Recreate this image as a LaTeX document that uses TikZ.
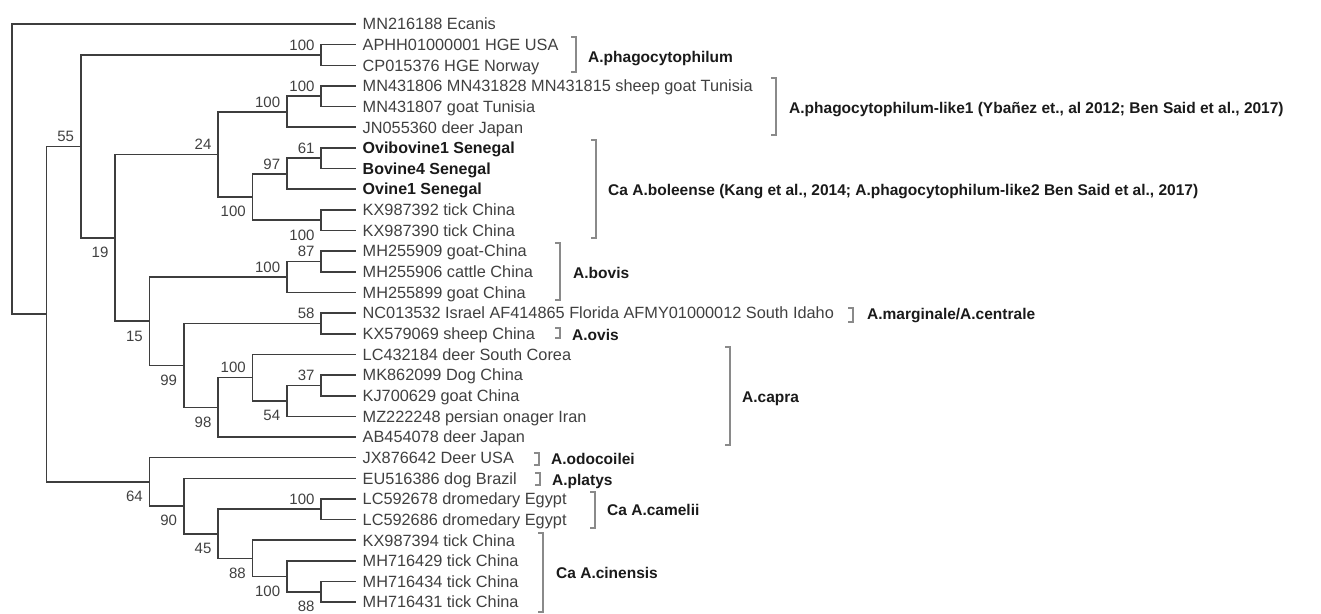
\documentclass[tikz,border=0pt]{standalone}
\usepackage{fontspec}
\setmainfont{Liberation Sans}
\definecolor{treec}{HTML}{3E3E3E}
\definecolor{txtc}{HTML}{404040}
\definecolor{boldc}{HTML}{1A1A1A}
\definecolor{brkc}{HTML}{8A8A8A}
\begin{document}
\begin{tikzpicture}[x=1pt,y=-1pt,
  br/.style={draw=treec, line width=1.6pt, line join=miter},
  leaf/.style={anchor=west, inner xsep=7pt, inner ysep=0pt, font=\fontsize{16.3}{18}\selectfont, text=txtc, text height=11.5pt, text depth=0pt},
  bleaf/.style={leaf, font=\fontsize{16}{18}\selectfont\bfseries, text=boldc},
  bs/.style={inner sep=0pt, anchor=east, xshift=-6.5pt, font=\fontsize{15}{17}\selectfont, text=txtc, text height=10.7pt, text depth=0pt},
  up/.style={bs, yshift=10pt},
  dn/.style={bs, yshift=-14.5pt},
  grp/.style={anchor=west, inner sep=0pt, font=\fontsize{15.5}{18}\selectfont\bfseries, text=boldc, text height=11.2pt, text depth=0pt},
  brk/.style={draw=brkc, line width=1.1pt}]
\useasboundingbox (0,0) rectangle (1321,613);

% leaves
\node[leaf]  (l1)  at (355.5,24)     {MN216188 Ecanis};
\node[leaf]  (l2)  at (355.5,44.65)  {APHH01000001 HGE USA};
\node[leaf]  (l3)  at (355.5,65.3)   {CP015376 HGE Norway};
\node[leaf]  (l4)  at (355.5,85.95)  {MN431806 MN431828 MN431815 sheep goat Tunisia};
\node[leaf]  (l5)  at (355.5,106.6)  {MN431807 goat Tunisia};
\node[leaf]  (l6)  at (355.5,127.25) {JN055360 deer Japan};
\node[bleaf] (l7)  at (355.5,147.9)  {Ovibovine1 Senegal};
\node[bleaf] (l8)  at (355.5,168.55) {Bovine4 Senegal};
\node[bleaf] (l9)  at (355.5,189.2)  {Ovine1 Senegal};
\node[leaf]  (l10) at (355.5,209.85) {KX987392 tick China};
\node[leaf]  (l11) at (355.5,230.5)  {KX987390 tick China};
\node[leaf]  (l12) at (355.5,251.15) {MH255909 goat-China};
\node[leaf]  (l13) at (355.5,271.8)  {MH255906 cattle China};
\node[leaf]  (l14) at (355.5,292.45) {MH255899 goat China};
\node[leaf]  (l15) at (355.5,313.1)  {NC013532 Israel AF414865 Florida AFMY01000012 South Idaho};
\node[leaf]  (l16) at (355.5,333.75) {KX579069 sheep China};
\node[leaf]  (l17) at (355.5,354.4)  {LC432184 deer South Corea};
\node[leaf]  (l18) at (355.5,375.05) {MK862099 Dog China};
\node[leaf]  (l19) at (355.5,395.7)  {KJ700629 goat China};
\node[leaf]  (l20) at (355.5,416.35) {MZ222248 persian onager Iran};
\node[leaf]  (l21) at (355.5,437)    {AB454078 deer Japan};
\node[leaf]  (l22) at (355.5,457.65) {JX876642 Deer USA};
\node[leaf]  (l23) at (355.5,478.3)  {EU516386 dog Brazil};
\node[leaf]  (l24) at (355.5,498.95) {LC592678 dromedary Egypt};
\node[leaf]  (l25) at (355.5,519.6)  {LC592686 dromedary Egypt};
\node[leaf]  (l26) at (355.5,540.25) {KX987394 tick China};
\node[leaf]  (l27) at (355.5,560.9)  {MH716429 tick China};
\node[leaf]  (l28) at (355.5,581.55) {MH716434 tick China};
\node[leaf]  (l29) at (355.5,602.2)  {MH716431 tick China};

% internal nodes
\coordinate (root) at (12,169.06);
\coordinate (A)  at (46.35,314.11);
\coordinate (B)  at (80.7,146.37);
\coordinate (Bp) at (321.15,54.98);
\coordinate (D)  at (115.05,237.76);
\coordinate (E)  at (218.1,154.35);
\coordinate (G)  at (286.8,111.76);
\coordinate (I)  at (321.15,96.28);
\coordinate (H)  at (252.45,196.94);
\coordinate (J)  at (286.8,173.71);
\coordinate (L)  at (321.15,158.23);
\coordinate (K)  at (321.15,220.18);
\coordinate (F)  at (149.4,321.17);
\coordinate (M)  at (286.8,276.96);
\coordinate (O)  at (321.15,261.48);
\coordinate (N)  at (183.75,365.37);
\coordinate (P)  at (321.15,323.43);
\coordinate (Q)  at (218.1,407.32);
\coordinate (S)  at (252.45,377.63);
\coordinate (T)  at (286.8,400.86);
\coordinate (U)  at (321.15,385.38);
\coordinate (C)  at (149.4,481.85);
\coordinate (V)  at (183.75,506.05);
\coordinate (W)  at (218.1,533.8);
\coordinate (X)  at (321.15,509.28);
\coordinate (Y)  at (252.45,558.32);
\coordinate (Z)  at (286.8,576.39);
\coordinate (AA) at (321.15,591.88);

% branches
\foreach \p/\c in {root/l1.west, root/A, A/B, A/C, B/Bp, B/D, Bp/l2.west, Bp/l3.west,
  D/E, D/F, E/G, E/H, G/I, G/l6.west, I/l4.west, I/l5.west, H/J, H/K, J/L, J/l9.west,
  L/l7.west, L/l8.west, K/l10.west, K/l11.west, F/M, F/N, M/O, M/l14.west,
  O/l12.west, O/l13.west, N/P, N/Q, P/l15.west, P/l16.west, Q/S, Q/l21.west,
  S/l17.west, S/T, T/U, T/l20.west, U/l18.west, U/l19.west, C/l22.west, C/V,
  V/l23.west, V/W, W/X, W/Y, X/l24.west, X/l25.west, Y/l26.west, Y/Z,
  Z/l27.west, Z/AA, AA/l28.west, AA/l29.west}
  \draw[br] (\p) |- (\c);

% bootstrap values
\node[up] (vBp) at (Bp) {100};
\node[up] (vB)  at (B)  {55};
\node[dn] (vD)  at (D)  {19};
\node[up] (vE)  at (E)  {24};
\node[dn] (vF)  at (F)  {15};
\node[up] (vG)  at (G)  {100};
\node[dn] (vH)  at (H)  {100};
\node[up] (vI)  at (I)  {100};
\node[up] (vJ)  at (J)  {97};
\node[dn] (vK)  at (K)  {100};
\node[up] (vL)  at (L)  {61};
\node[up] (vM)  at (M)  {100};
\node[up] (vO)  at (O)  {87};
\node[dn] (vN)  at (N)  {99};
\node[up] (vP)  at (P)  {58};
\node[dn] (vQ)  at (Q)  {98};
\node[up] (vS)  at (S)  {100};
\node[dn] (vT)  at (T)  {54};
\node[up] (vU)  at (U)  {37};
\node[dn] (vC)  at (C)  {64};
\node[dn] (vV)  at (V)  {90};
\node[dn] (vW)  at (W)  {45};
\node[up] (vX)  at (X)  {100};
\node[dn] (vY)  at (Y)  {88};
\node[dn] (vZ)  at (Z)  {100};
\node[dn] (vAA) at (AA) {88};

% group labels
\node[grp] (g1)  at (588,57)  {A.phagocytophilum};
\node[grp] (g2)  at (789,108) {A.phagocytophilum-like1 (Ybañez et., al 2012; Ben Said et al., 2017)};
\node[grp] (g3)  at (608,190) {Ca A.boleense (Kang et al., 2014; A.phagocytophilum-like2 Ben Said et al., 2017)};
\node[grp] (g4)  at (573,273) {A.bovis};
\node[grp] (g5)  at (867,314) {A.marginale/A.centrale};
\node[grp] (g6)  at (572,335) {A.ovis};
\node[grp] (g7)  at (742,397) {A.capra};
\node[grp] (g8)  at (551,459) {A.odocoilei};
\node[grp] (g9)  at (552,480) {A.platys};
\node[grp] (g10) at (607,510) {Ca A.camelii};
\node[grp] (g11) at (556,573) {Ca A.cinensis};

% brackets
\foreach \x/\t/\b in {576/37/72, 776/78/135, 596/140/238, 560/243/300, 853/308/322,
  560/328/338, 730/347/445, 539/453/465, 540/473/485, 595/492/528, 543/533/612}
  \draw[brk] (\x-5,\t) -- (\x,\t) -- (\x,\b) -- (\x-5,\b);
\end{tikzpicture}
\end{document}
